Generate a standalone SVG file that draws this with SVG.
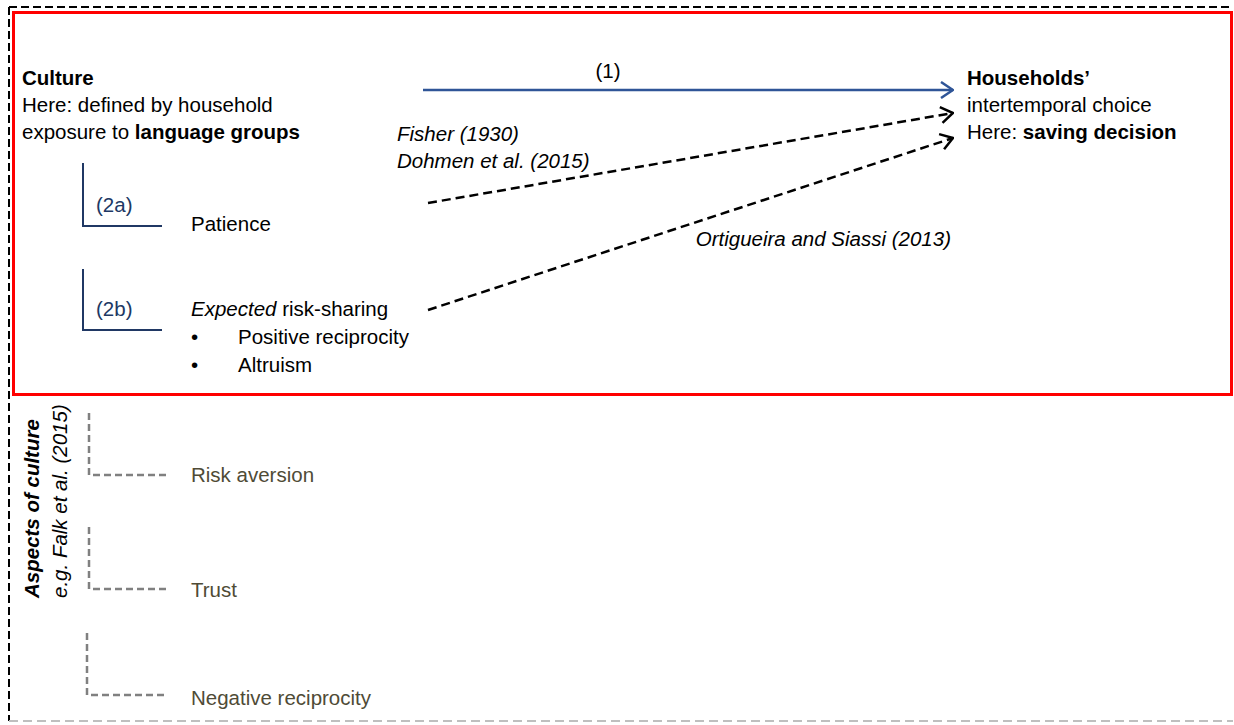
<svg xmlns="http://www.w3.org/2000/svg" width="1234" height="725" viewBox="0 0 1234 725">
<style>
text{font-family:"Liberation Sans",Arial,sans-serif;font-size:20.5px;fill:#000}
.b{font-weight:bold}
.i{font-style:italic}
.navy{fill:#203864}
.olive{fill:#4F4B36}
.brk{fill:none;stroke:#203864;stroke-width:2}
.gbrk{fill:none;stroke:#808080;stroke-width:2.5;stroke-dasharray:7,4}
.dash{fill:none;stroke:#000;stroke-width:2.5;stroke-dasharray:9,5}
</style>
<defs>
<marker id="ab" viewBox="0 0 14 18" refX="13" refY="9" markerWidth="14" markerHeight="18" markerUnits="userSpaceOnUse" orient="auto">
<path d="M1,1 L13,9 L1,17" fill="none" stroke="#2F5597" stroke-width="2.5" stroke-dasharray="none"/>
</marker>
<marker id="ak" viewBox="0 0 14 18" refX="13" refY="9" markerWidth="14" markerHeight="18" markerUnits="userSpaceOnUse" orient="auto">
<path d="M1,1 L13,9 L1,17" fill="none" stroke="#000" stroke-width="2.5" stroke-dasharray="none"/>
</marker>
</defs>
<rect width="1234" height="725" fill="#fff"/>
<g id="frame">
<line x1="9" y1="7" x2="1233" y2="7" stroke="#000" stroke-width="2" stroke-dasharray="8,4"/>
<line x1="9" y1="7" x2="9" y2="721" stroke="#000" stroke-width="2" stroke-dasharray="8,4"/>
<line x1="9" y1="721" x2="1233" y2="721" stroke="#BFBFBF" stroke-width="2" stroke-dasharray="9,5"/>
<rect x="13.5" y="12.5" width="1218" height="382" fill="none" stroke="#FF0000" stroke-width="3"/>
</g>
<g id="culture">
<text x="22" y="85" class="b">Culture</text>
<text x="22" y="112">Here: defined by household</text>
<text x="22" y="139">exposure to <tspan class="b">language groups</tspan></text>
</g>
<g id="households">
<text x="967" y="85" class="b">Households’</text>
<text x="967" y="112">intertemporal choice</text>
<text x="967" y="139">Here: <tspan class="b">saving decision</tspan></text>
</g>
<g id="patience">
<path class="brk" d="M83,163 V226 H162"/>
<text x="96" y="212" class="navy">(2a)</text>
<text x="191" y="231">Patience</text>
</g>
<g id="risksharing">
<path class="brk" d="M83,269 V330 H162"/>
<text x="96" y="316" class="navy">(2b)</text>
<text x="191" y="316"><tspan class="i">Expected</tspan> risk-sharing</text>
<text x="191" y="344">•</text>
<text x="238" y="344">Positive reciprocity</text>
<text x="191" y="372">•</text>
<text x="238" y="372">Altruism</text>
</g>
<g id="aspects">
<text transform="translate(39,598) rotate(-90)" class="b i" font-size="18.5">Aspects of culture</text>
<text transform="translate(67,598) rotate(-90)" class="i" font-size="19.5">e.g. Falk et al. (2015)</text>
</g>
<g id="riskaversion">
<path class="gbrk" d="M89,413 V475 H167"/>
<text x="191" y="482" class="olive">Risk aversion</text>
</g>
<g id="trust">
<path class="gbrk" d="M89,527 V589 H167"/>
<text x="191" y="597" class="olive">Trust</text>
</g>
<g id="negrecip">
<path class="gbrk" d="M87,633 V695 H167"/>
<text x="191" y="705" class="olive">Negative reciprocity</text>
</g>
<g id="connectors">
<line x1="423" y1="90" x2="953" y2="90" stroke="#2F5597" stroke-width="2.5" marker-end="url(#ab)"/>
<text x="608" y="78" text-anchor="middle">(1)</text>
<line class="dash" x1="428" y1="203" x2="953" y2="113" marker-end="url(#ak)"/>
<line class="dash" x1="428" y1="310" x2="953" y2="138" marker-end="url(#ak)"/>
<text x="397" y="141" class="i">Fisher (1930)</text>
<text x="397" y="168" class="i">Dohmen et al. (2015)</text>
<text x="951" y="246" class="i" text-anchor="end">Ortigueira and Siassi (2013)</text>
</g>
</svg>
